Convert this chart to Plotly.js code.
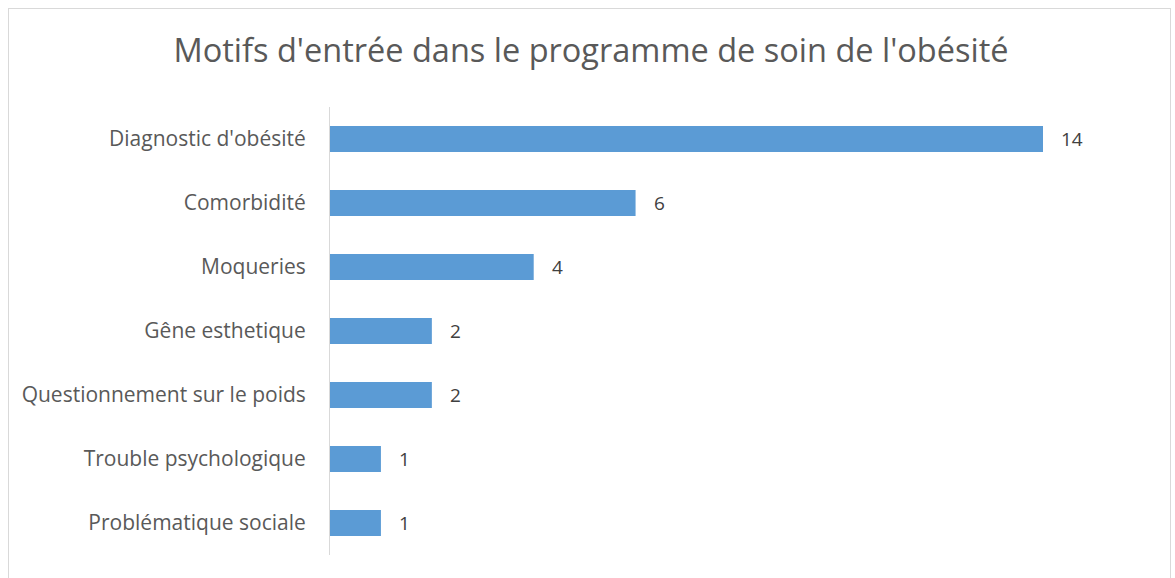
<!DOCTYPE html>
<html><head><meta charset="utf-8">
<script src="https://cdn.plot.ly/plotly-3.0.1.min.js"></script>
<style>
html,body{margin:0;padding:0;background:#fff;overflow:hidden;}
#frame{position:absolute;left:8px;top:8px;width:1163px;height:620px;border:1px solid #d9d9d9;box-sizing:border-box;}
#chart{position:absolute;left:0;top:0;width:1175px;height:578px;}
</style></head>
<body>
<div id="frame"></div>
<div id="chart"></div>
<script>
const categories = ["Diagnostic d'obésité","Comorbidité","Moqueries","Gêne esthetique","Questionnement sur le poids","Trouble psychologique","Problématique sociale"];
const values = [14, 6, 4, 2, 2, 1, 1];
const titleText = "Motifs d'entrée dans le programme de soin de l'obésité";

const font = "'Open Sans', sans-serif";
const trace = {
  type: 'bar', orientation: 'h',
  x: values, y: categories,
  marker: {color: '#5b9bd5'},
  hoverinfo: 'x+y', cliponaxis: false
};
const annotations = categories.map((c, i) => ({
  x: values[i], y: c, xref: 'x', yref: 'y', text: String(values[i]),
  showarrow: false, xanchor: 'left', xshift: 16,
  font: {family: font, size: 19, color: '#404040'}
}));
const layout = {
  width: 1175, height: 578,
  paper_bgcolor: 'rgba(0,0,0,0)', plot_bgcolor: 'rgba(0,0,0,0)',
  margin: {l: 330, r: 132, t: 107, b: 23},
  title: {text: titleText, x: 0.503, xanchor: 'center', y: 0.913, yanchor: 'middle',
          font: {family: font, size: 32.5, color: '#595959'}},
  bargap: 0.59,
  showlegend: false,
  xaxis: {range: [0, 14], showgrid: false, zeroline: false, showticklabels: false, showline: false, fixedrange: true},
  yaxis: {autorange: 'reversed', showgrid: false, zeroline: false, showline: true, linecolor: '#d9d9d9', linewidth: 1,
          ticks: '', ticklabelstandoff: 19, tickfont: {family: font, size: 21, color: '#595959'}},
  annotations: annotations
};
Plotly.newPlot('chart', [trace], layout, {displayModeBar: false, staticPlot: true});
</script>
</body></html>
